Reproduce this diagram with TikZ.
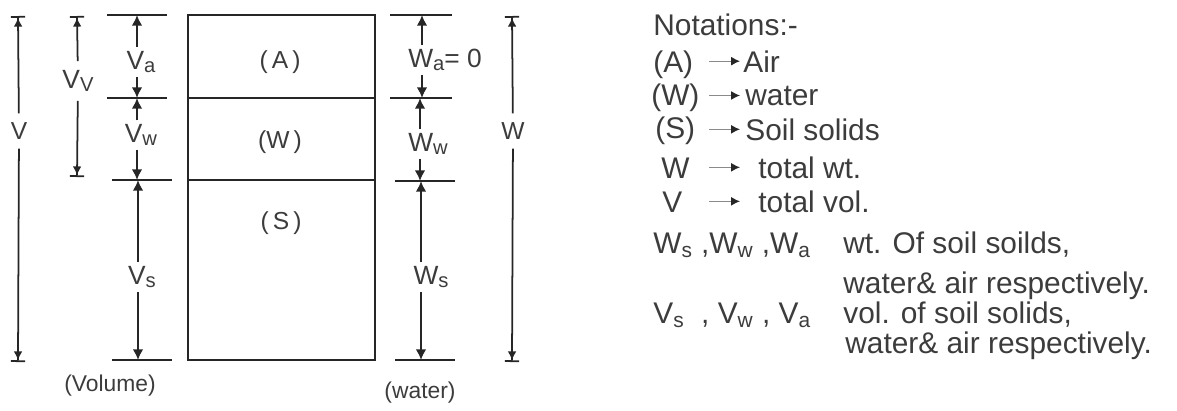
\documentclass[tikz,border=0pt]{standalone}
\usepackage{fontspec}
\setmainfont{Liberation Sans}
\usepackage{xcolor}
\usetikzlibrary{arrows.meta,positioning}
\definecolor{PDInk}{HTML}{262626}
\definecolor{PDText}{HTML}{3C3C3C}
\definecolor{PDKey}{HTML}{8A8A8A}
\newcommand\pdsub[1]{\raisebox{-2pt}{\fontsize{11.5}{13}\selectfont #1}}

\begin{document}
\begin{tikzpicture}[x=0.02cm,y=-0.02cm,
  level/.style={PDInk,line width=1.3pt},
  phase/.style={draw=PDInk,line width=1.1pt},
  dimline/.style={PDInk,line width=1pt,-{Latex[length=5pt,width=5pt]Bar[width=8pt]}},
  partarrow/.style={PDInk,line width=1.1pt,-{Latex[length=6pt,width=6pt]}},
  keyarrow/.style={PDKey,line width=.7pt,-{Latex[length=5pt,width=5pt,color=PDInk]}},
  dimlabel/.style={text=PDText,font=\fontsize{14}{16}\selectfont,inner xsep=1pt,inner ysep=5pt},
  partlabel/.style={text=PDText,font=\fontsize{15}{17}\selectfont,inner xsep=1pt,inner ysep=2pt},
  phaselabel/.style={text=PDText,font=\fontsize{14}{16}\selectfont},
  note/.style={text=PDText,font=\fontsize{17}{20}\selectfont,anchor=base west,inner sep=0pt}]
\path[use as bounding box] (0,0) rectangle (1177,410);

% phase block
\draw[phase] (188,15) rectangle (375,360);
\draw[phase] (188,98) -- (375,98);
\draw[phase] (188,180) -- (375,180);
\node[phaselabel] (air) at (280,62) {(\,A\,)};
\node[phaselabel] (wat) at (280,142) {(W\,)};
\node[phaselabel] (sol) at (281,223) {(\,S\,)};

% level lines
\draw[level] (107,15) -- (167,15);
\draw[level] (107,98) -- (167,98);
\draw[level] (112,180) -- (172,180);
\draw[level] (112,360) -- (172,360);
\draw[level] (390,15) -- (452,15);
\draw[level] (390,98) -- (452,98);
\draw[level] (395,181) -- (455,181);
\draw[level] (395,360) -- (455,360);

% total volume, volume of voids
\coordinate (Vtop) at (18,16);
\coordinate (Vbot) at (18,362);
\node[dimlabel] (V) at (19,131) {V};
\draw[dimline] (V) -- (Vtop);
\draw[dimline] (V) -- (Vbot);
\coordinate (VVtop) at (77,16);
\coordinate (VVbot) at (77,177);
\node[dimlabel,font=\fontsize{15}{17}\selectfont] (VV) at (78,81) {V\pdsub{V}};
\draw[dimline] (VV) -- (VVtop);
\draw[dimline] (VV) -- (VVbot);

% volumes of the phases
\coordinate (va1) at (137,15);
\coordinate (va2) at (137,98);
\coordinate (vw2) at (137,180);
\coordinate (vs1) at (138,180);
\coordinate (vs2) at (138,360);
\node[partlabel] (Va) at (141,62) {V\pdsub{a}};
\node[partlabel] (Vw) at (141,135) {V\pdsub{w}};
\node[partlabel] (Vs) at (142,277) {V\pdsub{s}};
\draw[partarrow] (Va.north -| va1) -- (va1);
\draw[partarrow] (Va.south -| va1) -- (va2);
\draw[partarrow] (Vw.north -| va2) -- (va2);
\draw[partarrow] (Vw.south -| va2) -- (vw2);
\draw[partarrow] (Vs.north -| vs1) -- (vs1);
\draw[partarrow] (Vs.south -| vs1) -- (vs2);

% weights of the phases
\coordinate (wa1) at (422,15);
\coordinate (wa2) at (422,98);
\coordinate (ww1) at (420,98);
\coordinate (ww2) at (420,181);
\coordinate (ws1) at (421,181);
\coordinate (ws2) at (421,360);
\node[partlabel,anchor=west,inner xsep=0pt] (Wa) at (408,60) {W\pdsub{a}= 0};
\node[partlabel] (Ww) at (428,144) {W\pdsub{w}};
\node[partlabel] (Ws) at (431,277) {W\pdsub{s}};
\draw[partarrow] (Wa.north -| wa1) -- (wa1);
\draw[partarrow] (Wa.south -| wa1) -- (wa2);
\draw[partarrow] (Ww.north -| ww1) -- (ww1);
\draw[partarrow] (Ww.south -| ww1) -- (ww2);
\draw[partarrow] (Ws.north -| ws1) -- (ws1);
\draw[partarrow] (Ws.south -| ws1) -- (ws2);

% total weight
\coordinate (Wtop) at (512,16);
\coordinate (Wbot) at (512,362);
\node[dimlabel] (W) at (513,131) {W};
\draw[dimline] (W) -- (Wtop);
\draw[dimline] (W) -- (Wbot);

\node[phaselabel,font=\fontsize{13}{15}\selectfont] (volcap) at (110,386) {(Volume)};
\node[phaselabel,font=\fontsize{13}{15}\selectfont] (watcap) at (420,393) {(water)};

% notations
\coordinate (keyfrom) at (709,0);
\coordinate (keyto) at (740,0);
\node[note] (notes) at (653,35) {Notations:-};
\node[note] (kA) at (653,72) {(A)};
\node[note] (dA) at (743,72) {Air};
\node[note] (kW) at (651,105) {(W)};
\node[note] (dW) at (745,105) {water};
\node[note] (kS) at (655,138) {(S)};
\node[note] (dS) at (745,140) {Soil solids};
\node[note] (kWt) at (661,178) {W};
\node[note] (dWt) at (758,178) {total wt.};
\node[note] (kV) at (662,212) {V};
\node[note] (dV) at (758,212) {total vol.};
\draw[keyarrow] (dA.west -| keyfrom) -- (dA.west -| keyto);
\draw[keyarrow] (dW.west -| keyfrom) -- (dW.west -| keyto);
\draw[keyarrow] (dS.west -| keyfrom) -- (dS.west -| keyto);
\draw[keyarrow] (dWt.west -| keyfrom) -- (dWt.west -| keyto);
\draw[keyarrow] (dV.west -| keyfrom) -- (dV.west -| keyto);
\node[note] (kWs) at (653,253) {W\textsubscript{s} ,W\textsubscript{w} ,W\textsubscript{a}};
\node[note] (dWs) at (843,253) {wt. Of soil soilds,};
\node[note] (dWs2) at (843,293) {water\& air respectively.};
\node[note] (kVs) at (653,323) {V\textsubscript{s} \ , V\textsubscript{w} , V\textsubscript{a}};
\node[note] (dVs) at (843,323) {vol. of soil solids,};
\node[note] (dVs2) at (845,353) {water\& air respectively.};
\end{tikzpicture}
\end{document}
